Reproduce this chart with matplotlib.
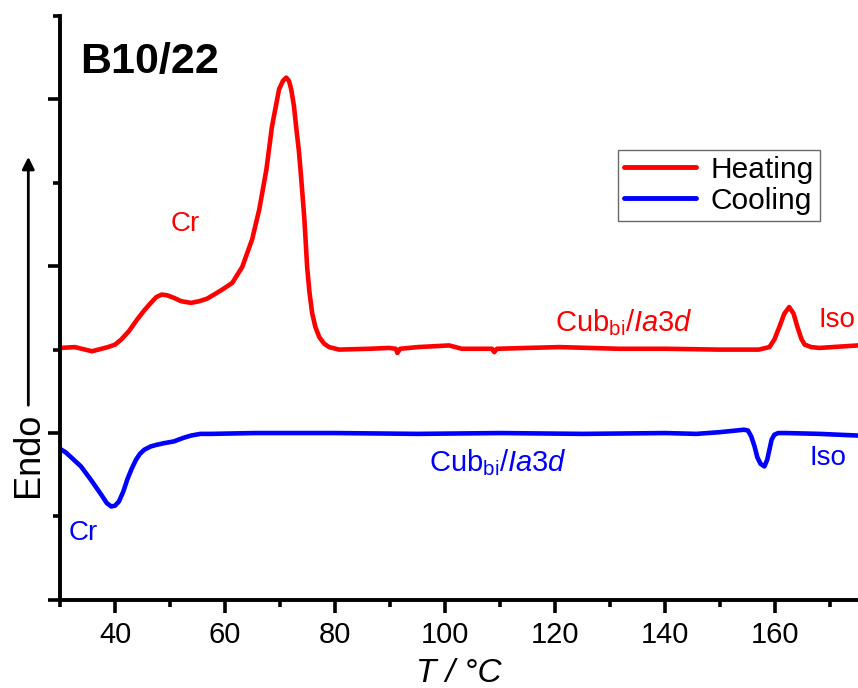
import numpy as np
import matplotlib.pyplot as plt
from matplotlib.ticker import MultipleLocator

plt.rcParams['font.family'] = ['Liberation Sans', 'DejaVu Sans']
plt.rcParams['mathtext.fontset'] = 'custom'
plt.rcParams['mathtext.rm'] = 'Liberation Sans'
plt.rcParams['mathtext.it'] = 'Liberation Sans:italic'

# heating trace (T / deg C, heat flow in arbitrary units)
heat_T = [30.0, 32.7, 35.8, 38.7, 40.0, 41.1, 42.5, 44.0, 45.3, 46.5, 47.5, 48.5,
          49.5, 50.7, 52.0, 53.8, 55.3, 56.7, 58.0, 59.5, 61.3, 63.1, 64.9, 66.2,
          67.5, 68.5, 69.8, 70.5, 71.1, 71.6, 72.0, 72.5, 72.9, 73.4, 73.8, 74.4,
          74.9, 75.3, 75.8, 76.4, 77.1, 78.0, 78.9, 80.7, 86.2, 89.8, 91.0, 91.3,
          91.8, 95.0, 100.7, 103.0, 108.5, 108.9, 109.4, 115.0, 120.7, 131.6,
          140.0, 149.8, 157.0, 158.9, 159.8, 160.7, 161.6, 162.5, 163.3, 164.0,
          164.7, 165.3, 166.5, 168.0, 175.0]
heat_y = [3.02, 3.03, 2.98, 3.03, 3.06, 3.12, 3.22, 3.36, 3.47, 3.56, 3.63, 3.66,
          3.65, 3.62, 3.58, 3.56, 3.58, 3.61, 3.66, 3.72, 3.80, 3.99, 4.32, 4.68,
          5.16, 5.67, 6.12, 6.22, 6.26, 6.22, 6.12, 5.92, 5.67, 5.38, 5.07, 4.56,
          3.99, 3.70, 3.44, 3.27, 3.15, 3.07, 3.03, 3.00, 3.01, 3.02, 3.01, 2.96,
          3.01, 3.03, 3.05, 3.01, 3.01, 2.97, 3.01, 3.02, 3.03, 3.01,
          3.01, 3.00, 3.00, 3.03, 3.12, 3.27, 3.43, 3.51, 3.43, 3.27,
          3.13, 3.06, 3.03, 3.02, 3.05]

# cooling trace
cool_T = [30.0, 31.0, 32.0, 33.8, 35.6, 37.5, 38.5, 39.3, 40.0, 40.7, 41.5, 42.2,
          43.0, 43.8, 44.5, 45.3, 46.5, 47.6, 49.0, 50.7, 52.3, 53.8, 55.5, 57.5,
          65.3, 80.0, 95.0, 110.0, 125.0, 140.0, 145.6, 149.8, 154.3, 155.0, 155.6,
          156.2, 156.7, 157.3, 158.0, 158.5, 158.9, 159.3, 159.8, 160.5, 162.0,
          168.0, 175.0]
cool_y = [1.81, 1.77, 1.71, 1.60, 1.44, 1.26, 1.16, 1.12, 1.13, 1.18, 1.30, 1.44,
          1.57, 1.68, 1.75, 1.80, 1.84, 1.86, 1.88, 1.90, 1.94, 1.97, 1.99, 1.99,
          2.00, 2.00, 1.99, 2.00, 1.99, 2.00, 1.99, 2.01, 2.04, 2.03, 1.96,
          1.84, 1.71, 1.63, 1.60, 1.68, 1.80, 1.92, 1.98, 2.00, 2.00,
          1.99, 1.97]

fig = plt.figure(figsize=(8.58, 6.88), dpi=100)
ax = fig.add_axes([0.070, 0.128, 0.930, 0.849])

ax.plot(heat_T, heat_y, color='#ff0000', lw=3.3, label='Heating',
        solid_joinstyle='round', solid_capstyle='round')
ax.plot(cool_T, cool_y, color='#0000ff', lw=3.3, label='Cooling',
        solid_joinstyle='round', solid_capstyle='round')

ax.set_xlim(30, 175)
ax.set_ylim(0, 7)
ax.xaxis.set_major_locator(MultipleLocator(20))
ax.xaxis.set_minor_locator(MultipleLocator(10))
ax.yaxis.set_major_locator(MultipleLocator(2))
ax.yaxis.set_minor_locator(MultipleLocator(1))
ax.set_yticklabels([])
ax.tick_params(which='major', direction='out', length=9, width=2.6, labelsize=21, pad=6)
ax.tick_params(which='minor', direction='out', length=5, width=2.6)
for s in ['top', 'right']:
    ax.spines[s].set_visible(False)
for s in ['left', 'bottom']:
    ax.spines[s].set_linewidth(2.8)

ax.set_xlabel('T / °C', fontsize=24, fontstyle='italic', labelpad=7)

ax.text(33.6, 6.45, 'B10/22', fontsize=31, fontweight='bold', ha='left', va='center')

ax.text(52.7, 4.50, 'Cr', color='#ff0000', fontsize=20, ha='center', va='center')
ax.text(132.5, 3.32, r'Cub$_\mathregular{bi}$/$\mathit{Ia3d}$', color='#ff0000',
        fontsize=21, ha='center', va='center')
ax.text(171.1, 3.36, 'Iso', color='#ff0000', fontsize=20, ha='center', va='center')

ax.text(34.2, 0.80, 'Cr', color='#0000ff', fontsize=20, ha='center', va='center')
ax.text(109.6, 1.65, r'Cub$_\mathregular{bi}$/$\mathit{Ia3d}$', color='#0000ff',
        fontsize=21, ha='center', va='center')
ax.text(169.6, 1.70, 'Iso', color='#0000ff', fontsize=20, ha='center', va='center')

leg = ax.legend(loc='upper right', bbox_to_anchor=(0.952, 0.771), fontsize=21.5,
                frameon=True, fancybox=False, handlelength=2.4, handletextpad=0.5,
                borderpad=0.2, labelspacing=0.1, borderaxespad=0)
leg.get_frame().set_edgecolor('#444444')
leg.get_frame().set_linewidth(1.0)
for line in leg.get_lines():
    line.set_linewidth(3.5)

# Endo arrow on the left
fig.text(0.033, 0.339, 'Endo', rotation=90, fontsize=26, ha='center', va='center')
ax.annotate('', xy=(0.033, 0.772), xytext=(0.033, 0.411), xycoords='figure fraction',
            textcoords='figure fraction',
            arrowprops=dict(arrowstyle='-|>', color='black', lw=2, mutation_scale=18,
                            shrinkA=0, shrinkB=0))

fig.savefig('out.png', dpi=100)
